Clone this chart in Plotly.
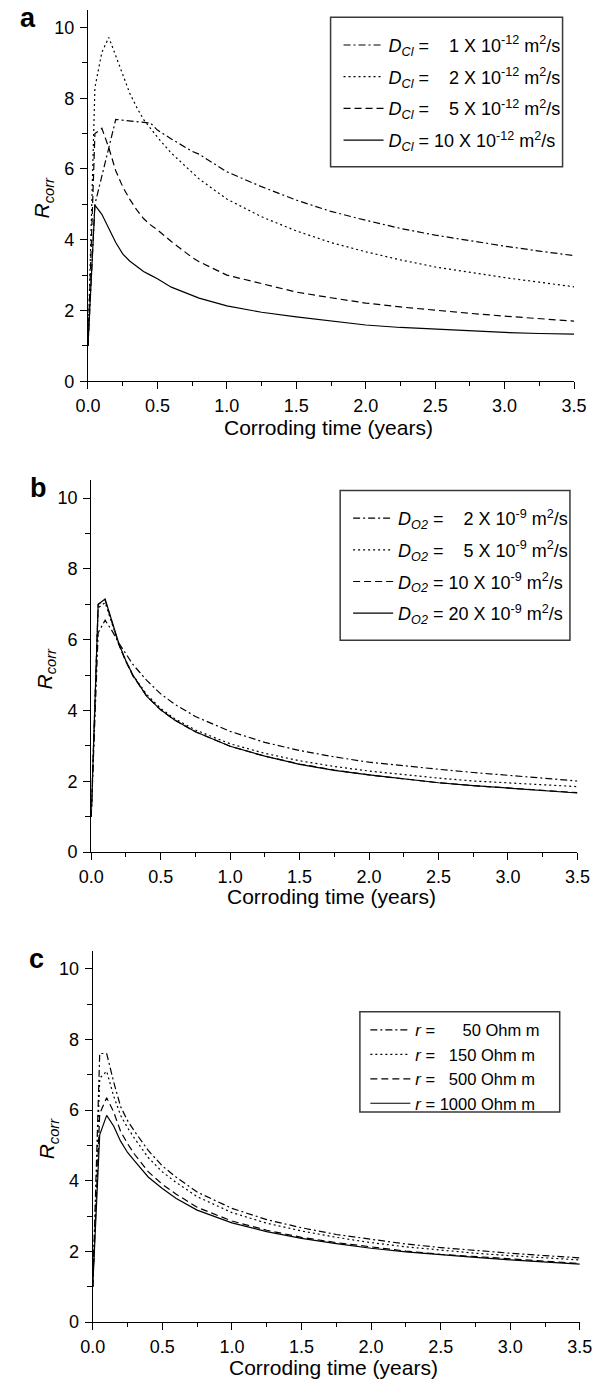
import plotly.graph_objects as go

# ---------------- data ----------------
# Panel a: effect of chloride diffusion coefficient
xa = [0, 0.05, 0.1, 0.15, 0.2, 0.25, 0.3, 0.35, 0.4, 0.45, 0.5, 0.6, 0.75, 0.8, 1.0, 1.25, 1.5, 1.75, 2.0, 2.25, 2.5, 2.75, 3.0, 3.25, 3.5]
a_dcl1 = [1.0, 5.0, 5.8, 6.6, 7.4, 7.38, 7.36, 7.34, 7.32, 7.3, 7.1, 6.85, 6.5, 6.42, 5.92, 5.5, 5.12, 4.8, 4.55, 4.32, 4.13, 3.97, 3.82, 3.68, 3.55]
a_dcl2 = [1.0, 8.3, 9.3, 9.72, 9.2, 8.7, 8.15, 7.75, 7.4, 7.15, 6.9, 6.45, 5.9, 5.72, 5.15, 4.65, 4.25, 3.92, 3.66, 3.43, 3.23, 3.07, 2.93, 2.8, 2.67]
a_dcl5 = [1.0, 7.0, 7.15, 6.6, 5.95, 5.5, 5.15, 4.85, 4.6, 4.42, 4.28, 3.95, 3.5, 3.38, 3.0, 2.75, 2.52, 2.36, 2.21, 2.1, 2.0, 1.92, 1.84, 1.77, 1.7]
a_dcl10 = [1.0, 4.98, 4.72, 4.3, 3.92, 3.6, 3.4, 3.25, 3.1, 3.0, 2.9, 2.66, 2.42, 2.35, 2.13, 1.95, 1.82, 1.7, 1.59, 1.52, 1.47, 1.42, 1.38, 1.35, 1.33]

# Panel b: effect of oxygen diffusion coefficient
xb = [0, 0.05, 0.1, 0.15, 0.2, 0.25, 0.3, 0.4, 0.5, 0.6, 0.75, 1.0, 1.25, 1.5, 1.75, 2.0, 2.25, 2.5, 2.75, 3.0, 3.25, 3.5]
b_do2_2 = [1.0, 6.2, 6.55, 6.25, 5.9, 5.6, 5.3, 4.85, 4.47, 4.18, 3.83, 3.41, 3.1, 2.87, 2.69, 2.54, 2.43, 2.34, 2.25, 2.17, 2.09, 2.01]
b_do2_5 = [1.0, 6.9, 7.05, 6.45, 5.85, 5.4, 5.0, 4.45, 4.06, 3.77, 3.45, 3.06, 2.79, 2.58, 2.42, 2.29, 2.18, 2.09, 2.01, 1.95, 1.9, 1.85]
b_do2_10 = [1.0, 7.0, 7.12, 6.45, 5.85, 5.38, 4.98, 4.4, 4.02, 3.73, 3.4, 2.99, 2.71, 2.49, 2.32, 2.18, 2.06, 1.96, 1.88, 1.81, 1.74, 1.68]
b_do2_20 = [1.0, 7.0, 7.15, 6.5, 5.88, 5.4, 5.0, 4.4, 4.02, 3.73, 3.4, 2.99, 2.71, 2.48, 2.31, 2.18, 2.06, 1.96, 1.88, 1.81, 1.74, 1.67]

# Panel c: effect of concrete resistivity
xc = [0, 0.05, 0.1, 0.15, 0.2, 0.25, 0.3, 0.4, 0.5, 0.6, 0.75, 1.0, 1.25, 1.5, 1.75, 2.0, 2.25, 2.5, 2.75, 3.0, 3.25, 3.5]
c_r50 = [1.0, 7.6, 7.6, 6.8, 6.1, 5.7, 5.4, 4.85, 4.42, 4.1, 3.68, 3.22, 2.9, 2.67, 2.48, 2.34, 2.21, 2.11, 2.02, 1.95, 1.88, 1.82]
c_r150 = [1.0, 6.9, 7.1, 6.4, 5.85, 5.5, 5.2, 4.65, 4.25, 3.95, 3.55, 3.1, 2.8, 2.58, 2.4, 2.25, 2.13, 2.03, 1.95, 1.88, 1.82, 1.76]
c_r500 = [1.0, 5.9, 6.35, 5.95, 5.4, 5.05, 4.75, 4.25, 3.9, 3.62, 3.25, 2.86, 2.6, 2.4, 2.25, 2.12, 2.01, 1.92, 1.85, 1.78, 1.72, 1.66]
c_r1000 = [1.0, 5.3, 5.85, 5.55, 5.12, 4.8, 4.56, 4.1, 3.78, 3.5, 3.17, 2.81, 2.56, 2.37, 2.22, 2.09, 1.99, 1.9, 1.83, 1.76, 1.7, 1.64]

NB = "\u00a0"
labels_a = [
    f"<i>D</i><sub><i>Cl</i></sub>{NB}={NB}{NB}{NB}{NB}1{NB}X{NB}10<sup>-12</sup>{NB}m<sup>2</sup>/s",
    f"<i>D</i><sub><i>Cl</i></sub>{NB}={NB}{NB}{NB}{NB}2{NB}X{NB}10<sup>-12</sup>{NB}m<sup>2</sup>/s",
    f"<i>D</i><sub><i>Cl</i></sub>{NB}={NB}{NB}{NB}{NB}5{NB}X{NB}10<sup>-12</sup>{NB}m<sup>2</sup>/s",
    f"<i>D</i><sub><i>Cl</i></sub>{NB}={NB}10{NB}X{NB}10<sup>-12</sup>{NB}m<sup>2</sup>/s",
]
labels_b = [
    f"<i>D</i><sub><i>O2</i></sub>{NB}={NB}{NB}{NB}{NB}2{NB}X{NB}10<sup>-9</sup>{NB}m<sup>2</sup>/s",
    f"<i>D</i><sub><i>O2</i></sub>{NB}={NB}{NB}{NB}{NB}5{NB}X{NB}10<sup>-9</sup>{NB}m<sup>2</sup>/s",
    f"<i>D</i><sub><i>O2</i></sub>{NB}={NB}10{NB}X{NB}10<sup>-9</sup>{NB}m<sup>2</sup>/s",
    f"<i>D</i><sub><i>O2</i></sub>{NB}={NB}20{NB}X{NB}10<sup>-9</sup>{NB}m<sup>2</sup>/s",
]
labels_c = [
    f"<i>r</i>{NB}={NB}{NB}{NB}{NB}{NB}{NB}50{NB}Ohm{NB}m",
    f"<i>r</i>{NB}={NB}{NB}{NB}150{NB}Ohm{NB}m",
    f"<i>r</i>{NB}={NB}{NB}{NB}500{NB}Ohm{NB}m",
    f"<i>r</i>{NB}={NB}1000{NB}Ohm{NB}m",
]

dashes = ["7px,3px,2px,3px", "2px,3px", "7px,4px", "solid"]

FONT = "Liberation Sans, Arial, sans-serif"
W, H = 611, 1392

fig = go.Figure()

panels = [
    ("", xa, [a_dcl1, a_dcl2, a_dcl5, a_dcl10], labels_a, "legend"),
    ("2", xb, [b_do2_2, b_do2_5, b_do2_10, b_do2_20], labels_b, "legend2"),
    ("3", xc, [c_r50, c_r150, c_r500, c_r1000], labels_c, "legend3"),
]
for pi, (suf, xs, ys_list, labs, leg) in enumerate(panels):
    for ti, (ys, lab, d) in enumerate(zip(ys_list, labs, dashes)):
        fig.add_trace(go.Scatter(
            x=xs, y=ys, mode="lines", name=lab,
            line=dict(color="black", width=1.2, dash=d),
            xaxis="x" + suf, yaxis="y" + suf, legend=leg,
            legendgroup=f"p{pi}t{ti}",
        ))

# pixel geometry of each plot area: (x0, x1, y of value 10, y of value 0)
geom = [
    (78.3, 586.0, 27.7, 384.0),
    (81.7, 589.5, 501.7, 858.3),
    (83.3, 592.0, 975.7, 1331.7),
]
title_y = [431, 903, 1377]
YMAX = 10.5

def px2x(p):
    return p / W

def px2y(p):
    return 1 - p / H

axis_common = dict(
    showline=True, linecolor="black", linewidth=1.2,
    ticks="outside", tickcolor="black", tickwidth=1.2, ticklen=7,
    showgrid=False, zeroline=False,
    tickfont=dict(family=FONT, size=18, color="black"),
)

layout_axes = {}
for i, (x0, x1, y10, y0) in enumerate(geom):
    suf = "" if i == 0 else str(i + 1)
    ytop = y0 - (y0 - y10) * YMAX / 10.0
    layout_axes["xaxis" + suf] = dict(
        axis_common,
        domain=[px2x(x0), px2x(x1)], range=[0, 3.5],
        anchor="y" + suf, dtick=0.5, tick0=0, tickformat=".1f", ticklabelstandoff=1,
        minor=dict(dtick=0.25, ticklen=4, tickcolor="black", tickwidth=1.2, ticks="outside"),
    )
    layout_axes["yaxis" + suf] = dict(
        axis_common,
        domain=[px2y(y0), px2y(ytop)], range=[0, YMAX],
        anchor="x" + suf, dtick=2, tick0=0, ticklabelstandoff=2,
        minor=dict(dtick=1, ticklen=5, tickcolor="black", tickwidth=1.2, ticks="outside"),
    )
    # x axis title
    fig.add_annotation(
        text="Corroding time (years)", x=px2x((x0 + x1) / 2 - 3), y=px2y(title_y[i]),
        xref="paper", yref="paper", showarrow=False, xanchor="center", yanchor="middle",
        font=dict(family=FONT, size=21, color="black"),
    )
    # y axis title
    fig.add_annotation(
        text="<i>R</i><sub><i>corr</i></sub>", x=px2x(x0 - 47), y=px2y((y0 + ytop) / 2 + 2),
        xref="paper", yref="paper", showarrow=False, xanchor="center", yanchor="middle",
        textangle=-90, font=dict(family=FONT, size=21, color="black"),
    )

# legend frames (left, top, right, bottom) in px
frames = [(331.7, 17.3, 574.0, 168.0), (341.7, 494.0, 581.7, 645.0), (362.3, 1019.0, 571.0, 1120.0)]
for (l, t, r, b) in frames:
    fig.add_shape(
        type="rect", xref="paper", yref="paper",
        x0=px2x(l), x1=px2x(r), y0=px2y(b), y1=px2y(t),
        line=dict(color="#3a3a3a", width=1.5), fillcolor="rgba(0,0,0,0)", layer="above",
    )

legend_common = dict(
    xanchor="left", yanchor="top", xref="paper", yref="paper",
    bgcolor="rgba(0,0,0,0)", borderwidth=0, itemwidth=40,
)

fig.update_layout(
    width=W, height=H,
    margin=dict(l=0, r=0, t=0, b=0),
    paper_bgcolor="white", plot_bgcolor="white",
    font=dict(family=FONT, color="black"),
    showlegend=True,
    legend=dict(legend_common, x=px2x(340), y=px2y(27),
                font=dict(family=FONT, size=18, color="black"), tracegroupgap=5.3),
    legend2=dict(legend_common, x=px2x(350), y=px2y(503.5),
                 font=dict(family=FONT, size=18, color="black"), tracegroupgap=5.3),
    legend3=dict(legend_common, x=px2x(368), y=px2y(1020),
                 font=dict(family=FONT, size=16.5, color="black"), tracegroupgap=0),
    **layout_axes,
)

for lab, (lx, ly) in zip(["a", "b", "c"], [(16, 18), (27, 492), (25, 966)]):
    fig.add_annotation(
        text=f"<b>{lab}</b>", x=px2x(lx), y=px2y(ly), xref="paper", yref="paper",
        showarrow=False, xanchor="center", yanchor="middle",
        font=dict(family=FONT, size=27, color="black"),
    )

# the page body gets no default margin so the figure sits at the window's origin
fig.write_html(
    "out.html",
    config={"displayModeBar": False},
    post_script="document.body.style.margin='0px';document.body.style.overflow='hidden';",
)
